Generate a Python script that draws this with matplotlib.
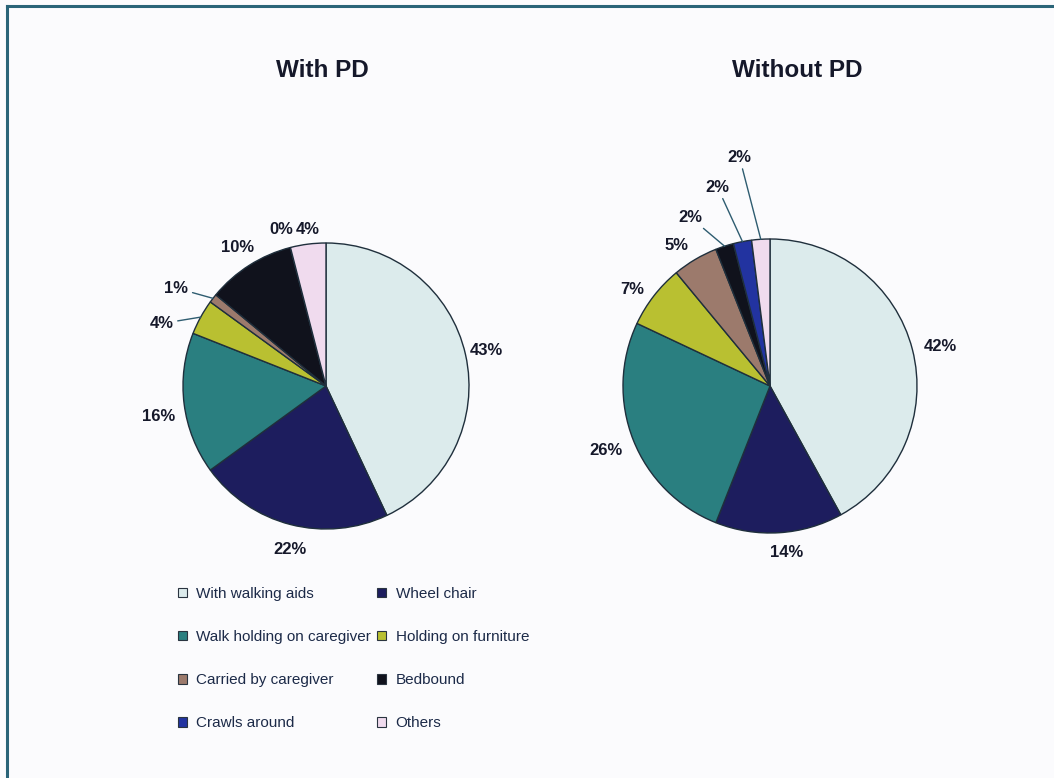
import numpy as np
import matplotlib
matplotlib.use('Agg')
import matplotlib.pyplot as plt
from matplotlib.lines import Line2D
from matplotlib.patches import Patch

plt.rcParams['font.family'] = ['Liberation Sans', 'DejaVu Sans']

# mobility of the children, in percent
categories = ['With walking aids', 'Wheel chair', 'Walk holding on caregiver',
              'Holding on furniture', 'Carried by caregiver', 'Bedbound',
              'Crawls around', 'Others']
with_pd = [43, 22, 16, 4, 1, 10, 0, 4]
without_pd = [42, 14, 26, 7, 5, 2, 2, 2]
titles = ['With PD', 'Without PD']

colors = ['#dcebec', '#1d1d5e', '#2a7f80', '#b9c031',
          '#9c7a6c', '#10121c', '#2233a0', '#f0dbee']
EDGE = '#1f2f3c'
TXT = '#15182a'
LEADER = '#2e5c70'

# label placement per slice: (radius factor, angle shift in deg, leader line)
left_lbl = [(1.15, 0, False), (1.17, 2, False), (1.19, 3, False),
            (1.23, 8, True), (1.25, 4.6, True), (1.15, 0, False),
            (1.14, 1.6, False), (1.10, -0.7, False)]
right_lbl = [(1.19, -1.5, False), (1.14, 2, False), (1.20, 0, False),
             (1.14, 2.8, False), (1.15, 3, False), (1.27, 7.3, True),
             (1.40, 4, True), (1.57, 4, True)]

W, H = 1054, 778
fig = plt.figure(figsize=(W / 100, H / 100), dpi=100)
fig.patch.set_facecolor('#fbfbfd')
ax = fig.add_axes([0, 0, 1, 1])


def draw_pie(values, center, radius, lbl):
    wedges, _ = ax.pie(values, colors=colors, startangle=90, counterclock=False,
                       center=center, radius=radius,
                       wedgeprops=dict(edgecolor=EDGE, linewidth=1.0))
    cx, cy = center
    for w, v, (rf, da, leader) in zip(wedges, values, lbl):
        mid = np.radians((w.theta1 + w.theta2) / 2)
        a = mid + np.radians(da)
        pos = (cx + rf * radius * np.cos(a), cy + rf * radius * np.sin(a))
        if leader:
            edge = (cx + radius * np.cos(mid), cy + radius * np.sin(mid))
            ax.annotate(f'{v}%', xy=edge, xytext=pos, ha='center', va='center',
                        fontsize=12, fontweight='bold', color=TXT,
                        arrowprops=dict(arrowstyle='-', color=LEADER, lw=1.0,
                                        shrinkA=1, shrinkB=0))
        else:
            ax.text(pos[0], pos[1], f'{v}%', ha='center', va='center',
                    fontsize=12, fontweight='bold', color=TXT)


draw_pie(with_pd, (326, H - 386), 143, left_lbl)
draw_pie(without_pd, (770, H - 386), 147, right_lbl)

ax.text(322, H - 70, titles[0], ha='center', va='center',
        fontsize=17.5, fontweight='bold', color=TXT)
ax.text(797, H - 70, titles[1], ha='center', va='center',
        fontsize=17.5, fontweight='bold', color=TXT)

ax.set_xlim(0, W)
ax.set_ylim(0, H)
ax.set_axis_off()

# legend filled row by row, two columns
handles = [Patch(facecolor=c, edgecolor='#2a3440', linewidth=0.8, label=t)
           for c, t in zip(colors, categories)]
order = [0, 2, 4, 6, 1, 3, 5, 7]
fig.legend(handles=[handles[i] for i in order], ncol=2, loc='upper left',
           bbox_to_anchor=(178 / W, 1 - 587 / H), frameon=False,
           fontsize=11, labelcolor='#1c2a48', borderpad=0, borderaxespad=0,
           handlelength=0.6, handleheight=0.6, handletextpad=0.6,
           columnspacing=0.4, labelspacing=1.9)

# outer frame (left and top edges visible)
fig.add_artist(Line2D([7 / W, 7 / W], [0, 1 - 6 / H], color='#2a6478', lw=2.2))
fig.add_artist(Line2D([7 / W, 1], [1 - 6 / H, 1 - 6 / H], color='#2a6478', lw=2.2))

fig.savefig('out.png', dpi=100, facecolor=fig.get_facecolor())
